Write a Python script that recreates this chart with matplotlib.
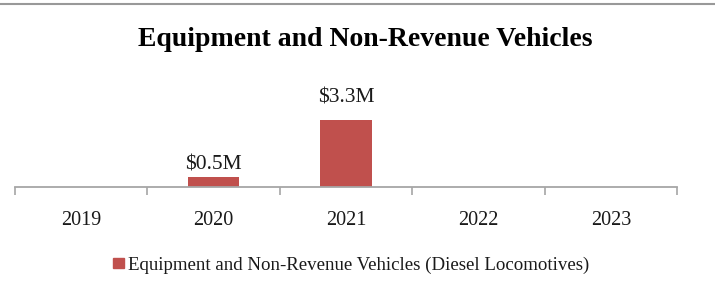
import matplotlib.pyplot as plt
from matplotlib.patches import Rectangle

years = ['2019', '2020', '2021', '2022', '2023']
values = [0, 0.5, 3.3, 0, 0]
labels = ['', '$0.5M', '$3.3M', '', '']
series_name = 'Equipment and Non-Revenue Vehicles (Diesel Locomotives)'
title = 'Equipment and Non-Revenue Vehicles'

bar_color = '#C0504D'
axis_color = '#A6A6A6'
font = 'Liberation Serif'

W, H = 715, 292
fig = plt.figure(figsize=(W / 100, H / 100), dpi=100)

# axes placed in pixel terms: axis line at y=187, from x=15 to x=677
ax = fig.add_axes([15 / W, (H - 187) / H, 662 / W, 81 / H])
x = range(len(years))
ax.bar(x, values, width=0.39, color=bar_color, zorder=2)
ax.set_xlim(-0.5, len(years) - 0.5)
ax.set_ylim(0, 4)

# label gap above each bar (points) as drawn in the original
label_gap = [0, 1.5, 9, 0, 0]
for i, (v, lab) in enumerate(zip(values, labels)):
    if lab:
        ax.annotate(lab, (i, v), xytext=(0, label_gap[i]), textcoords='offset points',
                    ha='center', va='bottom', fontsize=15.5, family=font,
                    color='#1a1a1a', annotation_clip=False)

for s in ['top', 'right', 'left']:
    ax.spines[s].set_visible(False)
ax.spines['bottom'].set_color(axis_color)
ax.spines['bottom'].set_linewidth(1.3)
ax.set_yticks([])
ax.set_xticks([i - 0.5 for i in range(len(years) + 1)])
ax.set_xticklabels([])
ax.tick_params(axis='x', length=6, width=1.2, color=axis_color, direction='out')
for i, y in enumerate(years):
    ax.text(i, -0.3, y, transform=ax.get_xaxis_transform(), ha='center',
            va='top', fontsize=14.5, family=font, color='#1a1a1a')

fig.text(365 / W, 1 - 40 / H, title, ha='center', va='center',
         fontsize=20, fontweight='bold', family=font, color='black')

# legend
fig.patches.append(Rectangle((113 / W, 1 - 268 / H), 11 / W, 10 / H,
                             transform=fig.transFigure, color=bar_color))
fig.text(128 / W, 1 - 265 / H, series_name, ha='left', va='center',
         fontsize=13.6, family=font, color='#1a1a1a')

# thin gray border line at the top
fig.add_artist(plt.Line2D([0, 1], [1 - 4 / H, 1 - 4 / H],
                          transform=fig.transFigure, color='#999999', lw=1.5))

fig.savefig('out.png', dpi=100, facecolor='white')
